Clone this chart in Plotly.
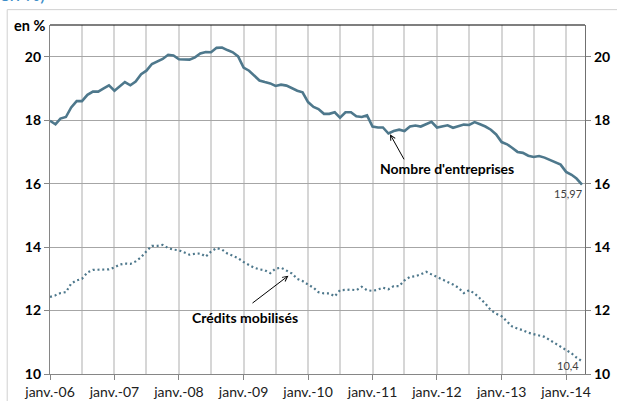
import plotly.graph_objects as go
import pandas as pd

# monthly series, Jan 2006 -> Apr 2014
months = pd.date_range("2006-01-01", "2014-04-01", freq="MS")

nombre_entreprises = [
    17.98, 17.87, 18.05, 18.10, 18.40, 18.60, 18.60, 18.80, 18.90, 18.90, 19.00, 19.10,
    18.93, 19.07, 19.20, 19.10, 19.22, 19.45, 19.56, 19.77, 19.85, 19.93, 20.06, 20.04,
    19.92, 19.92, 19.91, 19.98, 20.10, 20.15, 20.14, 20.28, 20.29, 20.21, 20.14, 20.01,
    19.66, 19.56, 19.40, 19.25, 19.20, 19.16, 19.08, 19.12, 19.09, 19.00, 18.93, 18.88,
    18.57, 18.42, 18.35, 18.20, 18.20, 18.25, 18.08, 18.25, 18.25, 18.12, 18.10, 18.15,
    17.80, 17.77, 17.77, 17.58, 17.66, 17.70, 17.66, 17.80, 17.83, 17.80, 17.87, 17.95,
    17.77, 17.80, 17.84, 17.76, 17.82, 17.86, 17.85, 17.94, 17.87, 17.80, 17.70, 17.55,
    17.31, 17.24, 17.13, 17.00, 16.97, 16.88, 16.84, 16.87, 16.82, 16.75, 16.69, 16.60,
    16.37, 16.28, 16.16, 15.97,
]

credits_mobilises = [
    12.43, 12.48, 12.55, 12.58, 12.85, 12.95, 13.00, 13.20, 13.28, 13.28, 13.30, 13.30,
    13.36, 13.45, 13.48, 13.47, 13.55, 13.68, 13.87, 14.04, 14.04, 14.07, 13.97, 13.92,
    13.90, 13.83, 13.76, 13.79, 13.80, 13.70, 13.86, 13.97, 13.92, 13.80, 13.72, 13.65,
    13.53, 13.43, 13.35, 13.30, 13.27, 13.18, 13.32, 13.35, 13.27, 13.17, 13.00, 12.93,
    12.82, 12.72, 12.58, 12.54, 12.54, 12.45, 12.64, 12.66, 12.66, 12.64, 12.75, 12.64,
    12.62, 12.66, 12.72, 12.67, 12.77, 12.77, 12.95, 13.06, 13.08, 13.14, 13.22, 13.14,
    13.06, 13.00, 12.92, 12.82, 12.72, 12.55, 12.64, 12.54, 12.38, 12.22, 12.01, 11.90,
    11.82, 11.64, 11.50, 11.43, 11.38, 11.30, 11.26, 11.22, 11.17, 11.07, 10.96, 10.86,
    10.75, 10.65, 10.52, 10.40,
]

year_ticks = pd.date_range("2006-01-01", "2014-01-01", freq="YS")
year_labels = [f"janv.-{d.year % 100:02d}" for d in year_ticks]
y_ticks = [10, 12, 14, 16, 18, 20]

LINE = "#4E788C"
FONT = "Lato"

fig = go.Figure()
fig.add_scatter(x=months, y=nombre_entreprises, mode="lines",
                line=dict(color=LINE, width=2.6), hoverinfo="skip")
fig.add_scatter(x=months, y=credits_mobilises, mode="lines",
                line=dict(color=LINE, width=2.2, dash="2px,2.8px"), hoverinfo="skip")
# dummy trace so the right axis gets drawn
fig.add_scatter(x=[months[0]], y=[None], yaxis="y2", showlegend=False, hoverinfo="skip")

anno_font = dict(family=FONT, size=14, color="black")
fig.add_annotation(x="2012-02-25", y=16.49, text="<b>Nombre d'entreprises</b>",
                   showarrow=False, font=anno_font)
fig.add_annotation(x="2011-04-10", y=17.56, ax="2011-07-03", ay=16.72,
                   axref="x", ayref="y", text="", showarrow=True,
                   arrowhead=5, arrowsize=1, arrowwidth=1, arrowcolor="black")
fig.add_annotation(x="2009-01-07", y=11.77, text="<b>Crédits mobilisés</b>",
                   showarrow=False, font=anno_font)
fig.add_annotation(x="2009-09-12", y=13.10, ax="2009-02-12", ay=12.20,
                   axref="x", ayref="y", text="", showarrow=True,
                   arrowhead=5, arrowsize=1, arrowwidth=1, arrowcolor="black")

# end-point labels
lab_font = dict(family=FONT, size=11, color="#404040")
fig.add_annotation(x="2014-01-13", y=15.70, text="15,97", showarrow=False, font=lab_font)
fig.add_annotation(x="2014-01-13", y=10.26, text="10,4", showarrow=False, font=lab_font)

# unit label and the cut-off title above
fig.add_annotation(xref="paper", yref="paper", x=-0.006, y=1.0, xanchor="right",
                   yanchor="middle", text="<b>en %</b>", showarrow=False,
                   font=dict(family=FONT, size=14.5, color="black"))
fig.add_annotation(xref="paper", yref="paper", x=-0.106, y=1.052, xanchor="left",
                   yanchor="bottom", text="(en %)", showarrow=False,
                   font=dict(family=FONT, size=19, color="#3D8EC9"))

# outer chart frame (top and left edges, the rest runs off the picture)
fig.add_shape(type="line", xref="paper", yref="paper", x0=-0.080, x1=1.2, y0=1.044, y1=1.044,
              line=dict(color="#D0D0D0", width=1), layer="below")
fig.add_shape(type="line", xref="paper", yref="paper", x0=-0.080, x1=-0.080, y0=-0.2, y1=1.044,
              line=dict(color="#D0D0D0", width=1), layer="below")
# black top edge of the plot area
fig.add_shape(type="line", xref="paper", yref="paper", x0=0, x1=1, y0=1, y1=1,
              line=dict(color="black", width=1.2))

fig.update_layout(
    template="none",
    width=617, height=401,
    margin=dict(l=50, r=32, t=25, b=27, autoexpand=False),
    paper_bgcolor="white", plot_bgcolor="white",
    showlegend=False,
    font=dict(family=FONT, color="black"),
    xaxis=dict(
        type="date", range=["2006-01-01", "2014-04-18"], automargin=False,
        tickmode="array", tickvals=year_ticks, ticktext=year_labels,
        tickfont=dict(family=FONT, size=14, color="#202020"),
        ticks="outside", ticklen=5, tickcolor="#868686",
        showgrid=True, gridcolor="#D6D6D6", gridwidth=2,
        minor=dict(dtick="M6", tick0="2006-01-01", showgrid=True,
                   gridcolor="#D6D6D6", gridwidth=2, ticks=""),
        showline=True, linecolor="#868686", linewidth=1.2,
        zeroline=False,
    ),
    yaxis=dict(
        range=[10, 21], tickvals=y_ticks, automargin=False,
        tickfont=dict(family=FONT, size=14, color="black", weight="bold"),
        ticks="outside", ticklen=5, tickcolor="#868686",
        showgrid=True, gridcolor="#A6A6A6", gridwidth=1.3,
        showline=True, linecolor="#868686", linewidth=1.2,
        zeroline=False,
    ),
    yaxis2=dict(
        range=[10, 21], tickvals=y_ticks, overlaying="y", side="right",
        automargin=False,
        tickfont=dict(family=FONT, size=14, color="black", weight="bold"),
        ticks="outside", ticklen=5, tickcolor="#868686",
        showgrid=False, showline=True, linecolor="#707070", linewidth=1.2,
        zeroline=False,
    ),
)

# the page body has a default 8px margin; drop it so the figure sits at 0,0
fig.write_html("out.html", config={"displayModeBar": False},
               post_script="document.body.style.margin='0';")
